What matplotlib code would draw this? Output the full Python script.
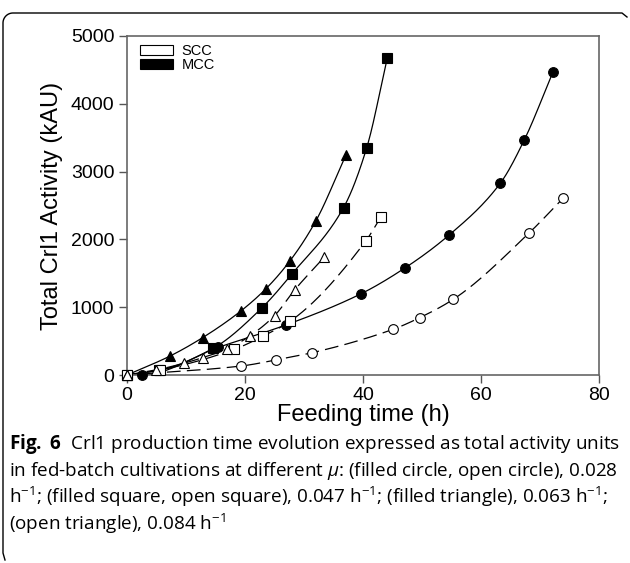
import numpy as np
import matplotlib
matplotlib.use("Agg")
import matplotlib.pyplot as plt
from matplotlib.patches import Patch
from matplotlib.lines import Line2D

plt.rcParams['font.family'] = ['Liberation Sans', 'DejaVu Sans']
plt.rcParams['mathtext.fontset'] = 'custom'
plt.rcParams['mathtext.rm'] = 'Open Sans'
plt.rcParams['mathtext.it'] = 'Open Sans:italic'
plt.rcParams['mathtext.bf'] = 'Open Sans:bold'

# ---- data ----
mcc_circle_x = [0, 2.6, 15.5, 26.9, 39.6, 47.1, 54.6, 63.3, 67.3, 72.2]
mcc_circle_y = [0, 0, 408, 737, 1195, 1578, 2065, 2832, 3460, 4470]
scc_circle_x = [0, 19.4, 25.2, 31.4, 45.1, 49.6, 55.3, 68.1, 73.9]
scc_circle_y = [0, 133, 221, 329, 674, 845, 1116, 2090, 2606]
mcc_square_x = [0, 5.5, 14.6, 22.9, 27.9, 36.7, 40.6, 44.1]
mcc_square_y = [0, 70, 393, 993, 1485, 2468, 3343, 4670]
scc_square_x = [0, 5.6, 18.2, 23.1, 27.7, 40.5, 43.0]
scc_square_y = [0, 74, 379, 575, 796, 1981, 2326]
mcc_tri_x = [0, 7.3, 12.8, 19.3, 23.5, 27.6, 32.0, 37.1]
mcc_tri_y = [0, 280, 550, 944, 1268, 1681, 2271, 3245]
scc_tri_x = [0, 4.9, 9.6, 12.8, 16.9, 20.8, 25.0, 28.4, 33.4]
scc_tri_y = [0, 74, 172, 256, 379, 575, 875, 1253, 1735]

x_ticks = [0, 20, 40, 60, 80]
y_ticks = [0, 1000, 2000, 3000, 4000, 5000]
legend_labels = ['SCC', 'MCC']


def smooth(x, y, n=300):
    """Monotone cubic (Fritsch-Carlson) curve through the points, for the line only."""
    x = np.asarray(x, float); y = np.asarray(y, float)
    h = np.diff(x); d = np.diff(y) / h
    m = np.zeros_like(x)
    m[0] = d[0]; m[-1] = d[-1]
    for i in range(1, len(x) - 1):
        if d[i - 1] * d[i] <= 0:
            m[i] = 0
        else:
            w1 = 2 * h[i] + h[i - 1]; w2 = h[i] + 2 * h[i - 1]
            m[i] = (w1 + w2) / (w1 / d[i - 1] + w2 / d[i])
    xs = np.linspace(x[0], x[-1], n)
    idx = np.clip(np.searchsorted(x, xs) - 1, 0, len(x) - 2)
    t = (xs - x[idx]) / h[idx]
    h00 = 2 * t**3 - 3 * t**2 + 1; h10 = t**3 - 2 * t**2 + t
    h01 = -2 * t**3 + 3 * t**2; h11 = t**3 - t**2
    ys = h00 * y[idx] + h10 * h[idx] * m[idx] + h01 * y[idx + 1] + h11 * h[idx] * m[idx + 1]
    return xs, ys


fig = plt.figure(figsize=(6.3, 5.63), dpi=100)
ax = fig.add_axes([127 / 630, 1 - 375 / 563, (599 - 127) / 630, (375 - 36) / 563])

series = [
    (mcc_circle_x, mcc_circle_y, 'o', 'black', '-'),
    (scc_circle_x, scc_circle_y, 'o', 'white', '--'),
    (mcc_square_x, mcc_square_y, 's', 'black', '-'),
    (scc_square_x, scc_square_y, 's', 'white', '--'),
    (mcc_tri_x, mcc_tri_y, '^', 'black', '-'),
    (scc_tri_x, scc_tri_y, '^', 'white', '--'),
]
for x, y, mk, fc, ls in series:
    xs, ys = smooth(x, y)
    line, = ax.plot(xs, ys, color='black', lw=0.9, ls=ls, zorder=2)
    if ls == '--':
        line.set_dashes((11, 5))
    ms = 7 if mk == 'o' else (6.5 if mk == 's' else 7.5)
    ax.plot(x, y, ls='none', marker=mk, ms=ms, mfc=fc, mec='black', mew=0.8,
            zorder=3, clip_on=False)

ax.set_xlim(0, 80)
ax.set_ylim(0, 5000)
ax.set_xticks(x_ticks)
ax.set_yticks(y_ticks)
ax.tick_params(direction='out', length=6, width=1, color='#555555', labelsize=14,
               pad=3)
for s in ax.spines.values():
    s.set_color('#666666')
    s.set_linewidth(1.2)
ax.set_xlabel('Feeding time (h)', fontsize=17, labelpad=0)
ax.set_ylabel('Total Crl1 Activity (kAU)', fontsize=17, labelpad=6)

handles = [Patch(facecolor='white', edgecolor='black', lw=0.8),
           Patch(facecolor='black', edgecolor='black', lw=0.8)]
ax.legend(handles, legend_labels, loc='upper left', frameon=False, fontsize=10.5,
          handlelength=2.3, handleheight=0.6, handletextpad=0.55, labelspacing=0.0,
          borderaxespad=0.15, bbox_to_anchor=(0.01, 1.0))

# caption
cap_kw = dict(fontsize=13.6, family='Open Sans', ha='left', va='baseline')
x0 = 9 / 630
lines = [
    r"$\mathbf{Fig.\ 6}$  Crl1 production time evolution expressed as total activity units",
    r"in fed-batch cultivations at different $\mathit{μ}$: (filled circle, open circle), 0.028",
    r"h$^{-1}$; (filled square, open square), 0.047 h$^{-1}$; (filled triangle), 0.063 h$^{-1}$;",
    r"(open triangle), 0.084 h$^{-1}$",
]
base = [449, 476, 503, 530]
for t, b in zip(lines, base):
    fig.text(x0, 1 - b / 563, t, **cap_kw)

# rounded frame (top and left edges)
W, H = 630, 563
r = 10
fx = lambda px: px / W
fy = lambda py: 1 - py / H
th = np.linspace(np.pi, np.pi / 2, 20)
cx, cy = 3 + r, 13 + r
arc_x = cx + r * np.cos(th)
arc_y = cy - r * np.sin(th)
px = np.concatenate([[5, 3], arc_x, [622, 627]])
py = np.concatenate([[560, 553], arc_y, [13, 17]])
fig.add_artist(Line2D([fx(v) for v in px], [fy(v) for v in py], color='black', lw=1.0))

fig.savefig('out.png', dpi=100)
